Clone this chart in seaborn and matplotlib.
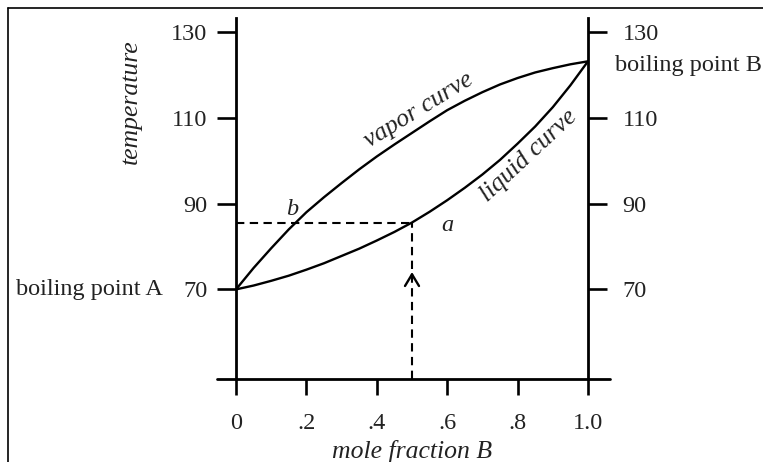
import matplotlib
matplotlib.use('Agg')
import matplotlib.pyplot as plt
import seaborn as sns
import pandas as pd
from matplotlib.lines import Line2D

# ---- data ----
mole_fraction = [0.0, 0.05, 0.1, 0.15, 0.2, 0.25, 0.3, 0.35, 0.4, 0.45, 0.5,
                 0.55, 0.6, 0.65, 0.7, 0.75, 0.8, 0.85, 0.9, 0.95, 1.0]
vapor_temp = [70.0, 75.0, 79.6, 84.0, 88.0, 91.5, 94.8, 98.0, 101.0, 103.8, 106.5,
              109.2, 111.8, 114.0, 116.0, 117.8, 119.3, 120.6, 121.6, 122.5, 123.2]
liquid_temp = [70.0, 70.9, 72.0, 73.2, 74.6, 76.1, 77.8, 79.5, 81.4, 83.4, 85.6,
               88.1, 90.8, 93.7, 96.8, 100.2, 104.0, 108.0, 112.5, 117.6, 123.2]
x_ticks = [0, 0.2, 0.4, 0.6, 0.8, 1.0]
x_tick_labels = ['0', '.2', '.4', '.6', '.8', '1.0']
y_ticks = [70, 90, 110, 130]
y_tick_labels = ['70', '90', '110', '130']
point_a_x = 0.5
point_a_temp = 85.6
point_b_x = 0.16
arrow_temp = 74.7
bp_A = 70.0
bp_B = 123.2

sns.set_theme(style='white')
plt.rcParams['font.family'] = ['Liberation Serif', 'DejaVu Serif']

TXT = '#222222'
FS = 17.5

df = pd.DataFrame({'x': mole_fraction, 'vapor': vapor_temp, 'liquid': liquid_temp})

fig = plt.figure(figsize=(7.63, 4.62), dpi=100)
ax = fig.add_axes([236 / 763, 1 - 379 / 462, 352 / 763, 361 / 462])
ymin, ymax = 49.1, 133.3

sns.lineplot(data=df, x='x', y='vapor', ax=ax, color='black', lw=1.7, sort=True)
sns.lineplot(data=df, x='x', y='liquid', ax=ax, color='black', lw=1.7, sort=True)

# dashed construction lines
dash = dict(color='black', lw=1.5, ls=(0, (4, 2.6)))
ax.plot([0, point_a_x], [point_a_temp, point_a_temp], **dash)
ax.plot([point_a_x, point_a_x], [ymin, point_a_temp], **dash)
ax.annotate('', xy=(point_a_x, arrow_temp), xytext=(point_a_x, arrow_temp - 3),
            arrowprops=dict(arrowstyle='->,head_length=0.7,head_width=0.42',
                            color='black', lw=1.7))

ax.set_xlim(0, 1)
ax.set_ylim(ymin, ymax)

for s in ['top', 'bottom', 'right']:
    ax.spines[s].set_visible(False)
ax.spines['left'].set_linewidth(2.0)
ax.spines['left'].set_color('black')
ax.axhline(ymin, xmin=-0.054, xmax=1.0625, color='black', lw=2.0, clip_on=False)

ax.set_xticks(x_ticks)
ax.set_xticklabels(x_tick_labels)
ax.set_yticks(y_ticks)
ax.set_yticklabels(y_tick_labels)
ax.tick_params(axis='x', direction='out', length=11.5, width=1.9, pad=13,
               labelsize=FS, labelcolor=TXT, color='black', bottom=True)
ax.tick_params(axis='y', direction='out', length=13.5, width=1.9, pad=7,
               labelsize=FS, labelcolor=TXT, color='black', left=True)
ax.set_xlabel('mole fraction B', fontsize=FS + 1, style='italic', color=TXT, labelpad=4)
ax.set_ylabel('')
ax.grid(False)
ax.set_facecolor('none')

ax2 = ax.twinx()
ax2.set_ylim(ymin, ymax)
ax2.set_yticks(y_ticks)
ax2.set_yticklabels(y_tick_labels)
for s in ['top', 'bottom', 'left']:
    ax2.spines[s].set_visible(False)
ax2.spines['right'].set_linewidth(2.0)
ax2.spines['right'].set_color('black')
ax2.tick_params(axis='y', direction='out', length=14, width=1.9, pad=11,
                labelsize=FS, labelcolor=TXT, color='black', right=True)
ax2.grid(False)

# annotations
ax.text(-0.298, 113.7, 'temperature', rotation=90, style='italic', fontsize=FS + 1,
        color=TXT, ha='center', va='center')
ax.text(-0.207, bp_A, 'boiling point A', fontsize=FS, color=TXT, ha='right', va='center')
ax.text(1.077, bp_B - 1.0, 'boiling point B', fontsize=FS, color=TXT, ha='left',
        va='center', clip_on=False)
ax.text(0.52, 111.8, 'vapor curve', rotation=31.6, rotation_mode='anchor',
        style='italic', fontsize=FS + 1, color=TXT, ha='center', va='center')
ax.text(0.83, 101.2, 'liquid curve', rotation=43, rotation_mode='anchor',
        style='italic', fontsize=FS + 1, color=TXT, ha='center', va='center')
ax.text(point_b_x, 88.6, 'b', style='italic', fontsize=FS, color=TXT, ha='center', va='center')
ax.text(0.60, 85.0, 'a', style='italic', fontsize=FS, color=TXT, ha='center', va='center')

# outer frame (top and left edges visible)
fig.add_artist(Line2D([8 / 763, 1.0], [1 - 8 / 462, 1 - 8 / 462], color='black', lw=1.2))
fig.add_artist(Line2D([8 / 763, 8 / 763], [0.0, 1 - 8 / 462], color='black', lw=1.2))

fig.savefig('out.png', dpi=100)
